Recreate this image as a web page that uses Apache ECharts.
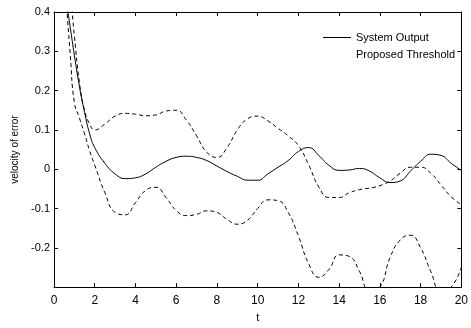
<!DOCTYPE html>
<html>
<head>
<meta charset="utf-8">
<script src="https://cdn.jsdelivr.net/npm/echarts@6/dist/echarts.min.js"></script>
<style>
  html, body { margin: 0; padding: 0; background: #fff; }
  #container { width: 471px; height: 328px; }
</style>
</head>
<body>
<div id="container"></div>
<script>
var timeValues = [0.6, 0.8, 1.0, 1.25, 1.5, 1.75, 2.0, 2.5, 3.0, 3.5, 4.0, 4.5, 5.0, 5.5, 6.0, 6.5, 7.0, 7.5, 8.0, 8.5, 9.0, 9.5,
  10.0, 10.5, 11.0, 11.5, 12.0, 12.5, 13.0, 13.5, 14.0, 14.5, 15.0, 15.5, 16.0, 16.5, 17.0, 17.5, 18.0, 18.5, 19.0, 19.5, 20.0];

// 系统输出（实线）
var systemOutput = [0.43, 0.36, 0.29, 0.21, 0.145, 0.09, 0.055, 0.015, -0.012, -0.024, -0.022, -0.012, 0.005, 0.02, 0.03, 0.033,
  0.03, 0.022, 0.008, -0.006, -0.018, -0.028, -0.028, -0.012, 0.005, 0.022, 0.045, 0.055, 0.035, 0.01, -0.003, -0.002,
  0.002, -0.005, -0.022, -0.034, -0.03, -0.005, 0.02, 0.038, 0.035, 0.015, -0.003];

// 阈值上界（虚线）
var upperThreshold = [0.55, 0.45, 0.34, 0.22, 0.15, 0.115, 0.10, 0.115, 0.135, 0.142, 0.14, 0.136, 0.138, 0.148, 0.15, 0.125,
  0.085, 0.043, 0.03, 0.055, 0.1, 0.128, 0.135, 0.123, 0.104, 0.085, 0.06, 0.012, -0.045, -0.072, -0.072, -0.06,
  -0.052, -0.048, -0.042, -0.03, -0.01, 0.005, 0.005, -0.01, -0.04, -0.07, -0.09];

// 阈值下界（虚线）
var lowerThreshold = [0.43, 0.29, 0.17, 0.13, 0.09, 0.047, 0.01, -0.06, -0.11, -0.116, -0.085, -0.054, -0.046, -0.072, -0.105, -0.118,
  -0.115, -0.106, -0.11, -0.128, -0.14, -0.13, -0.1, -0.078, -0.08, -0.11, -0.17, -0.24, -0.275, -0.255, -0.218, -0.222,
  -0.26, -0.31, -0.3, -0.225, -0.18, -0.168, -0.2, -0.26, -0.31, -0.3, -0.25];

var legendNames = ['System Output', 'Proposed Threshold'];

function pairs(vals) {
  return timeValues.map(function (t, i) { return [t, vals[i]]; });
}

var dom = document.getElementById('container');
var myChart = echarts.init(dom, null, { renderer: 'canvas' });

var font = 'Liberation Sans, Arial, sans-serif';
var axisCommon = {
  axisLine: { show: true, onZero: false, lineStyle: { color: '#000', width: 1 } },
  axisTick: { show: true, inside: true, length: 4, lineStyle: { color: '#000' } },
  splitLine: { show: false }
};

var option = {
  backgroundColor: '#fff',
  animation: false,
  grid: { left: 54, right: 7, top: 12, bottom: 31 },
  legend: {
    orient: 'vertical',
    left: 318,
    top: 27,
    itemWidth: 28,
    itemHeight: 1,
    itemGap: 6,
    selectedMode: false,
    textStyle: { fontFamily: font, fontSize: 11, color: '#000' },
    data: [
      { name: legendNames[0], icon: 'rect', itemStyle: { color: '#000' } },
      { name: legendNames[1], icon: 'rect', itemStyle: { color: 'rgba(0,0,0,0)' } }
    ]
  },
  xAxis: [
    Object.assign({
      type: 'value', min: 0, max: 20, interval: 2,
      name: 't', nameLocation: 'middle', nameGap: 21,
      nameTextStyle: { fontFamily: font, fontSize: 11, color: '#000' },
      axisLabel: { fontFamily: font, fontSize: 12, color: '#000', margin: 8 }
    }, axisCommon),
    Object.assign({
      type: 'value', min: 0, max: 20, interval: 2, position: 'top',
      axisLabel: { show: false }
    }, axisCommon)
  ],
  yAxis: [
    Object.assign({
      type: 'value', min: -0.3, max: 0.4, interval: 0.1,
      name: 'velocity of error', nameLocation: 'middle', nameGap: 34,
      nameTextStyle: { fontFamily: font, fontSize: 10, color: '#000' },
      axisLabel: {
        fontFamily: font, fontSize: 11, color: '#000', margin: 4,
        formatter: function (v) {
          if (v < -0.29) return '';
          return String(+v.toFixed(1));
        }
      }
    }, axisCommon),
    Object.assign({
      type: 'value', min: -0.3, max: 0.4, interval: 0.1, position: 'right',
      axisLabel: { show: false }
    }, axisCommon)
  ],
  series: [
    {
      name: legendNames[0], type: 'line', smooth: true, showSymbol: false, clip: true,
      lineStyle: { color: '#000', width: 1 },
      itemStyle: { color: '#000' },
      data: pairs(systemOutput)
    },
    {
      name: legendNames[1], type: 'line', smooth: true, showSymbol: false, clip: true,
      lineStyle: { color: '#000', width: 1, type: [4, 3] },
      itemStyle: { color: '#000' },
      data: pairs(upperThreshold)
    },
    {
      name: legendNames[1], type: 'line', smooth: true, showSymbol: false, clip: true,
      lineStyle: { color: '#000', width: 1, type: [4, 3] },
      itemStyle: { color: '#000' },
      data: pairs(lowerThreshold)
    }
  ]
};

myChart.setOption(option);
window.addEventListener('resize', myChart.resize);
</script>
</body>
</html>
